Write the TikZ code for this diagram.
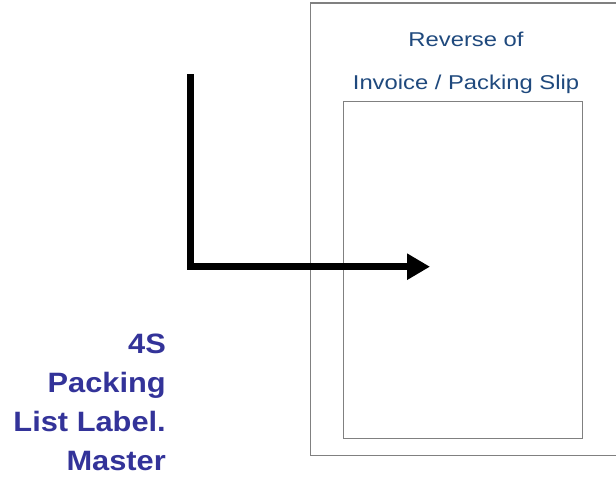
\documentclass[tikz,border=0pt]{standalone}
\usepackage{fontspec}
\setmainfont{Liberation Sans}
\newfontfamily\topfont[FakeStretch=1.19]{Liberation Sans}
\newfontfamily\labfont[FakeStretch=1.1]{Liberation Sans}
\usetikzlibrary{arrows.meta}
\definecolor{topblue}{HTML}{1F497D}
\definecolor{labblue}{HTML}{333399}
\tikzset{
  sheet/.style={draw=gray, line width=1.4pt, inner sep=0pt, outer sep=0pt},
  bigarrow/.style={line width=7pt, -{Triangle[length=23pt,width=25pt]}, line join=miter},
}
\begin{document}
\begin{tikzpicture}[x=1pt,y=-1pt]
\useasboundingbox (0,0) rectangle (616,479);
\node[sheet, minimum width=307.3pt, minimum height=452.5pt] (outer) at (464.35,229.25) {};
\node[sheet, minimum width=239.2pt, minimum height=337.2pt] (inner) at (463.1,270.1) {};
\node[anchor=north, inner sep=0pt, align=center, text=topblue,
      font=\topfont\fontsize{20}{43}\selectfont] (title) at (466,31.5)
      {Reverse of\\Invoice / Packing Slip};
\node[anchor=north east, inner sep=0pt, align=right, text=labblue,
      font=\labfont\bfseries\fontsize{28}{39}\selectfont] (label) at (166,334)
      {4S\\Packing\\List Label.\\Master};
\coordinate (start) at (190.7,74);
\coordinate (tip) at (430,266.7);
\draw[bigarrow] (start) |- (tip);
\end{tikzpicture}
\end{document}
